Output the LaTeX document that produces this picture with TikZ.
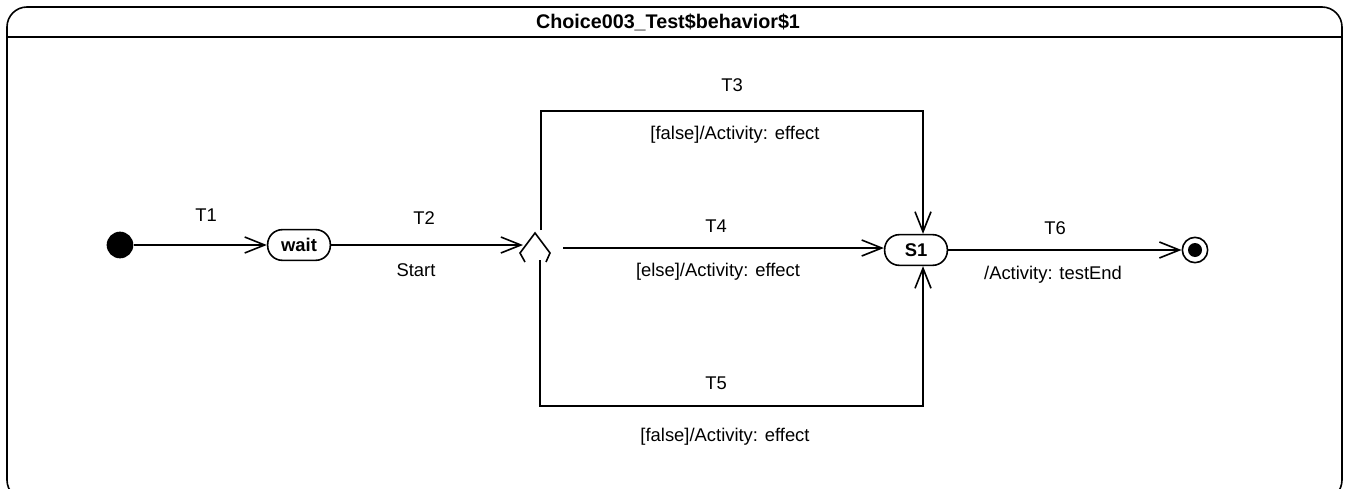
\documentclass[tikz,border=0pt]{standalone}
\usepackage{fontspec}
\setmainfont{Liberation Sans}
\usetikzlibrary{arrows.meta}
\begin{document}
\begin{tikzpicture}[x=0.75pt,y=-0.75pt,
  line width=1.2pt,
  lbl/.style={font=\fontsize{13.8pt}{16pt}\selectfont, inner sep=0pt},
  statebox/.style={draw, rounded corners=11pt, minimum width=47pt, minimum height=23pt, font=\fontsize{13.8pt}{16pt}\selectfont\bfseries, inner sep=0pt},
  trans/.style={-{Straight Barb[length=15pt,width=12pt,line width=1.2pt]}}]
\useasboundingbox (0,0) rectangle (1347,489);
\begin{scope}
\clip (0,0) rectangle (1347,489);
\draw[rounded corners=15pt] (7,7) rectangle (1342,500);
\end{scope}
\draw (7,37) -- (1342,37);
\node[lbl, font=\fontsize{14.8pt}{16pt}\selectfont\bfseries] (title) at (668,22) {Choice003\_Test\$behavior\$1};

% states
\node[circle, fill=black, minimum size=20pt, inner sep=0pt] (init) at (120,245) {};
\node[statebox] (wait) at (299,245) {wait};
\node[statebox] (s1) at (916,250) {S1};
\node[circle, draw, minimum size=19pt, inner sep=0pt] (fin) at (1195,250) {};
\node[circle, fill=black, minimum size=10.5pt, inner sep=0pt] (finin) at (fin.center) {};

% choice pseudostate (partially drawn)
\coordinate (ctop) at (535,233);
\draw (525,262) -- (520,253) -- (ctop) -- (550,253) -- (546,262);
\coordinate (cin) at (523,245);
\coordinate (t3s) at (541,230);
\coordinate (t4s) at (563,248);
\coordinate (t5s) at (540,260);

% transitions
\draw[trans] (init) -- (wait);
\draw[trans] (wait) -- (cin);
\draw[trans] (t3s) -- (541,111) -- (923,111) -- (s1.north -| 923,0);
\draw[trans] (t4s) -- (s1.west |- t4s);
\draw[trans] (t5s) -- (540,406) -- (923,406) -- (s1.south -| 923,0);
\draw[trans] (s1) -- (fin);

% labels
\node[lbl] (l1) at (206,215) {T1};
\node[lbl] (l2) at (424,218) {T2};
\node[lbl] (l2b) at (416,270) {Start};
\node[lbl] (l3) at (732,85) {T3};
\node[lbl] (l3b) at (735,135) {[false]/Activity: effect};
\node[lbl] (l4) at (716,226) {T4};
\node[lbl] (l4b) at (718,272) {[else]/Activity: effect};
\node[lbl] (l5) at (716,383) {T5};
\node[lbl] (l5b) at (725,437) {[false]/Activity: effect};
\node[lbl] (l6) at (1055,228) {T6};
\node[lbl] (l6b) at (1053,275) {/Activity: testEnd};
\end{tikzpicture}
\end{document}
